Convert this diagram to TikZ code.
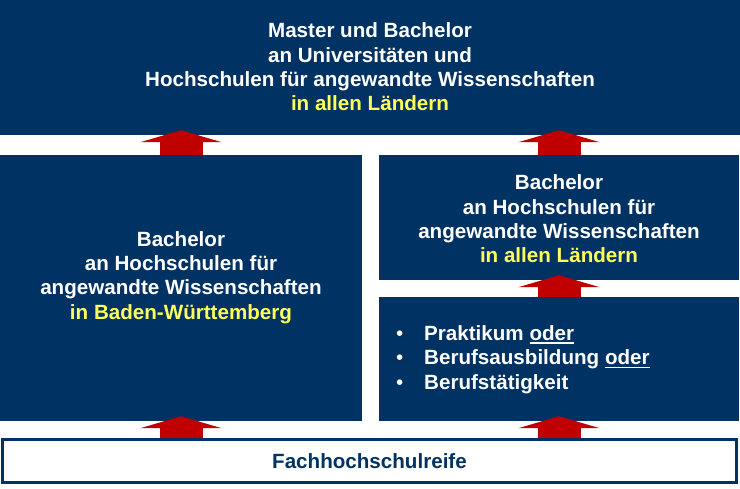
\documentclass[tikz,border=0pt]{standalone}
\usepackage{fontspec}
\setmainfont{Liberation Sans}
\usetikzlibrary{arrows.meta}
\definecolor{navy}{RGB}{0,50,100}
\definecolor{redarrow}{RGB}{192,0,0}
\definecolor{hiyellow}{RGB}{255,255,90}
\newcommand\myuline[1]{\setbox0\hbox{#1}\rlap{\rule[-3.6pt]{\wd0}{1.7pt}}\box0}
\begin{document}
\begin{tikzpicture}[x=1pt,y=-1pt,
  box/.style={fill=navy, draw=none, inner sep=0pt},
  txt/.style={text=white, inner sep=0pt,
    font=\fontsize{20.6}{24.4}\selectfont\bfseries, align=center},
  upper/.style={redarrow, line width=43pt,
    -{Triangle[width=81pt,length=12pt]}, shorten >=-5pt}]
\useasboundingbox (0,0) rectangle (740,488);
\fill[white] (0,0) rectangle (740,488);
\node[box, minimum width=740pt, minimum height=135pt] (top) at (370,67.5) {};
\node[txt] (toptext) at (370,67)
  {Master und Bachelor\\an Universitäten und\\Hochschulen für angewandte Wissenschaften\\\textcolor{hiyellow}{in allen Ländern}};
\node[box, minimum width=362pt, minimum height=266pt] (left) at (181,288) {};
\node[txt] (lefttext) at (181,277.5)
  {Bachelor\\an Hochschulen für\\angewandte Wissenschaften\\\textcolor{hiyellow}{in Baden-Württemberg}};
\node[box, minimum width=360pt, minimum height=125pt] (ru) at (559,217.5) {};
\node[txt] (rutext) at (559,219)
  {Bachelor\\an Hochschulen für\\angewandte Wissenschaften\\\textcolor{hiyellow}{in allen Ländern}};
\node[box, minimum width=360pt, minimum height=124pt] (rl) at (559,359) {};
\node[txt, align=left, anchor=west] (list) at (396,359.5)
  {\makebox[28pt][l]{\mdseries\textbullet}Praktikum \myuline{oder}\\
   \makebox[28pt][l]{\mdseries\textbullet}Berufsausbildung \myuline{oder}\\
   \makebox[28pt][l]{\mdseries\textbullet}Berufstätigkeit};
\node[draw=navy, line width=2.5pt, fill=white, minimum width=734pt, minimum height=43pt,
  inner sep=0pt, text=navy, font=\fontsize{20.6}{24}\selectfont\bfseries] (base) at (369.5,461)
  {Fachhochschulreife};
\draw[upper] (left.north) -- (left.north |- top.south);
\draw[upper] (ru.north) -- (ru.north |- top.south);
\draw[upper] (rl.north) -- (rl.north |- ru.south);
\draw[upper] (base.north -| left.north) -- (left.south);
\draw[upper] (base.north -| rl.north) -- (rl.south);
\end{tikzpicture}
\end{document}
